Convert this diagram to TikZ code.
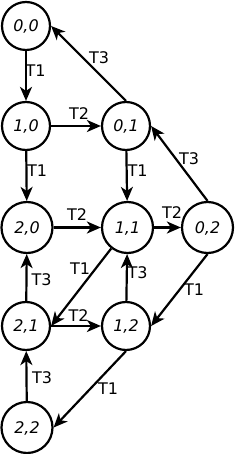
\documentclass[tikz,border=0pt]{standalone}
\usepackage{fontspec}
\setmainfont{DejaVu Sans}
\usetikzlibrary{arrows.meta}
\begin{document}
\begin{tikzpicture}[x=1pt,y=-1pt,
  st/.style={circle,draw,line width=2.2pt,inner sep=0pt,minimum size=48pt,
    font=\fontsize{16}{18}\selectfont\itshape,text depth=0pt},
  big/.style={minimum size=51pt},
  arr/.style={line width=2.2pt,-{Stealth[length=14pt,width=12pt,inset=4pt]}},
  lbl/.style={font=\fontsize{16}{18}\selectfont,inner sep=0pt,text depth=0pt}]
\useasboundingbox (0,0) rectangle (234,454);
\node[st] (n00) at (26,26) {0,0};
\node[st] (n10) at (26,126) {1,0};
\node[st] (n01) at (126,126) {0,1};
\node[st,big] (n20) at (27,227.5) {2,0};
\node[st,big] (n11) at (127.5,227.5) {1,1};
\node[st,big] (n02) at (207.5,227.5) {0,2};
\node[st] (n21) at (26,326) {2,1};
\node[st] (n12) at (126,326) {1,2};
\node[st,big] (n22) at (27,427.5) {2,2};

\draw[arr] (n00) -- (n10) node[lbl] at (35.5,71) {T1};
\draw[arr] (n10) -- (n01) node[lbl] at (79,114) {T2};
\draw[arr] (n01.north) -- (n00.east) node[lbl] at (99,58) {T3};
\draw[arr] (n10) -- (n20) node[lbl] at (37,171) {T1};
\draw[arr] (n01) -- (n11) node[lbl] at (137.5,171) {T1};
\draw[arr] (n20) -- (n11) node[lbl] at (77,215) {T2};
\draw[arr] (n11) -- (n02) node[lbl] at (172,213) {T2};
\draw[arr] (n02.north) -- (n01.east) node[lbl] at (189,159) {T3};
\draw[arr] (n11) -- (n21.east) node[lbl] at (80,269) {T1};
\draw[arr] (n21) -- (n20) node[lbl] at (41.5,280) {T3};
\draw[arr] (n12) -- (n11) node[lbl] at (137.5,273) {T3};
\draw[arr] (n02.south) -- (n12.east) node[lbl] at (194,290) {T1};
\draw[arr] (n21) -- (n12) node[lbl] at (78.5,316) {T2};
\draw[arr] (n22) -- (n21) node[lbl] at (42,378) {T3};
\draw[arr] (n12.south) -- (n22.east) node[lbl] at (108,389) {T1};
\end{tikzpicture}
\end{document}
